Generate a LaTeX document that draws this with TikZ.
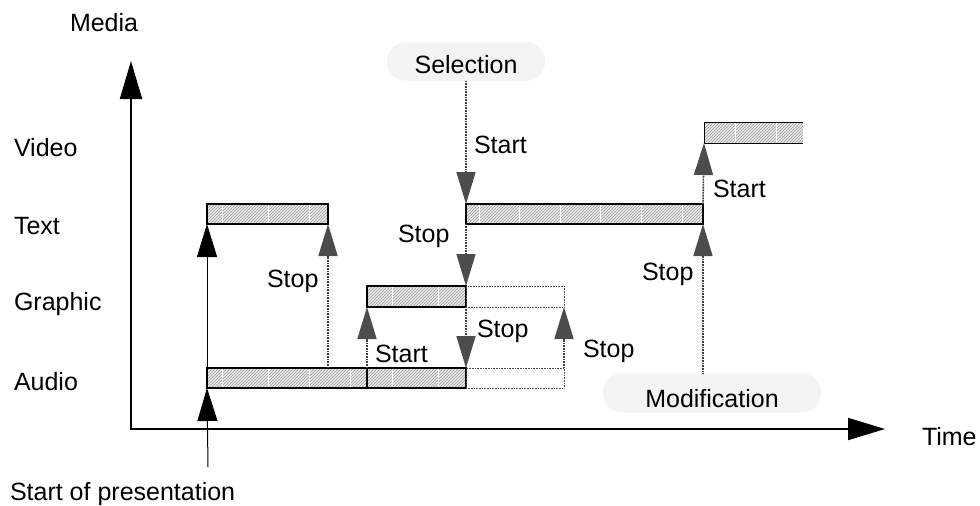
\documentclass[tikz,border=0pt]{standalone}
\usepackage{fontspec}
\setmainfont{Liberation Sans}
\usetikzlibrary{arrows.meta,patterns}
\begin{document}
\begin{tikzpicture}[x=1pt,y=-1pt,
  every node/.style={font=\fontsize{25}{28}\selectfont, inner sep=0pt, outer sep=0pt},
  bar/.style={draw=black, line width=1.4pt, anchor=north west, minimum height=20pt,
    preaction={fill=gray!18}, pattern=north east lines, pattern color=gray!75},
  ghostbar/.style={draw=black!70, line width=0.6pt, densely dotted, anchor=north west, minimum height=20pt},
  pill/.style={fill=gray!9, rounded corners=19pt, minimum height=39pt},
  lbl/.style={anchor=base west},
  sep/.style={white, line width=0.8pt},
  axis/.style={line width=2pt, black},
  solidarr/.style={line width=1pt, -{Triangle[length=33pt,width=20pt]}},
  hatcharr/.style={line width=1.6pt, black!75, dash pattern=on 1pt off 0.6pt,
    -{Triangle[length=32pt,width=19pt,fill=black!70,color=black!70]}}
]
\useasboundingbox (0,0) rectangle (980,506);

% axes
\coordinate (ytip) at (131,61);
\coordinate (O) at (131,429);
\coordinate (xtip) at (885,429);
\draw[axis, {Triangle[length=38pt,width=22pt]}-{Triangle[length=37pt,width=22pt]}] (ytip) -- (O) -- (xtip);

% axis and row labels
\node[lbl] (media) at (70,31) {Media};
\node[lbl] (lvideo) at (14,156) {Video};
\node[lbl] (ltext) at (14,234) {Text};
\node[lbl] (lgraphic) at (14,310) {Graphic};
\node[lbl] (laudio) at (14,390) {Audio};
\node[lbl] (time) at (922,445) {Time};
\node[lbl] (sop) at (10,500) {Start of presentation};

% bars
\node[bar, minimum width=121pt] (text1) at (207,204) {};
\node[bar, minimum width=160pt] (audio1) at (207,368) {};
\node[bar, minimum width=99pt] (audio2) at (367,368) {};
\node[ghostbar, minimum width=98pt] (audioD) at (466,368) {};
\node[bar, minimum width=99pt, minimum height=21pt] (graphic) at (367,286) {};
\node[ghostbar, minimum width=98pt, minimum height=21pt] (graphicD) at (466,286) {};
\node[bar, minimum width=237pt] (text2) at (466,204) {};
\node[anchor=north west, minimum width=99pt, minimum height=21pt,
  preaction={fill=gray!18}, pattern=north east lines, pattern color=gray!75] (video) at (704,122) {};
\draw[line width=0.7pt] (video.north east) -- (video.north west) -- (video.south west) -- (video.south east);

% white texture seams
\foreach \x in {222,268,309} {\draw[sep] (\x,205) -- (\x,223); \draw[sep] (\x,369) -- (\x,387);}
\foreach \x in {350} {\draw[sep] (\x,369) -- (\x,387);}
\foreach \x in {392,438} {\draw[sep] (\x,369) -- (\x,387); \draw[sep] (\x,287) -- (\x,306);}
\foreach \x in {479,519,560,600,641,682} {\draw[sep] (\x,205) -- (\x,223);}
\foreach \x in {735,776} {\draw[sep] (\x,123) -- (\x,142);}

% event pills
\node[pill, minimum width=158pt] (sel) at (466,61.5) {};
\node[anchor=base] (seltext) at (466,73) {Selection};
\node[pill, minimum width=218pt] (mod) at (712,393) {};
\node[anchor=base] (modtext) at (712,407) {Modification};

% connectors
\coordinate (p0) at (208,467);
\draw[solidarr] (p0) -- (audio1.south west);
\draw[solidarr] (audio1.north west) -- (text1.south west);
\draw[hatcharr] (text1.south east |- audio1.north) -- (text1.south east);
\draw[hatcharr] (audio2.north west) -- (graphic.south west);
\draw[hatcharr] (sel.south) -- (text2.north west);
\draw[hatcharr] (text2.south west) -- (graphic.north east);
\draw[hatcharr] (graphic.south east) -- (audio2.north east);
\draw[hatcharr] (audioD.north east) -- (graphicD.south east);
\draw[hatcharr] (text2.north east) -- (video.south west);
\draw[hatcharr] (text2.south east |- mod.north) -- (text2.south east);

% connector labels
\node[lbl] (l1) at (267,287) {Stop};
\node[lbl] (l2) at (375,362) {Start};
\node[lbl] (l3) at (474,153) {Start};
\node[lbl] (l4) at (398,242) {Stop};
\node[lbl] (l5) at (477,337) {Stop};
\node[lbl] (l6) at (583,357) {Stop};
\node[lbl] (l7) at (713,197) {Start};
\node[lbl] (l8) at (642,280) {Stop};
\end{tikzpicture}
\end{document}
